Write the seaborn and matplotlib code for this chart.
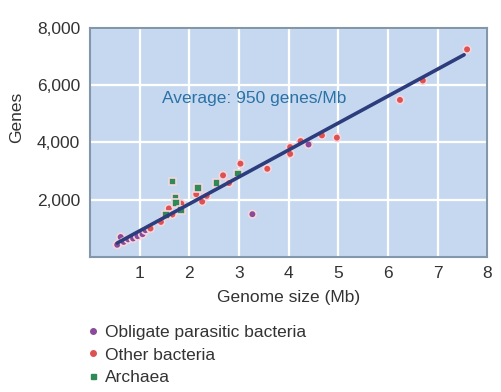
import matplotlib
matplotlib.use("Agg")
import matplotlib.pyplot as plt
import seaborn as sns
import pandas as pd
from matplotlib.lines import Line2D

# Data (genome size in Mb, number of genes)
parasitic_x = [0.55, 0.62, 0.68, 0.77, 0.87, 0.96, 1.06, 1.12, 3.27, 4.40]
parasitic_y = [420, 690, 520, 610, 640, 720, 790, 930, 1490, 3930]

other_x = [1.22, 1.43, 1.59, 1.66, 1.84, 2.14, 2.26, 2.35, 2.68, 2.80, 3.03, 3.57,
           4.03, 4.03, 4.24, 4.67, 4.97, 6.24, 6.70, 7.59]
other_y = [990, 1220, 1690, 1480, 1860, 2190, 1930, 2130, 2850, 2580, 3260, 3080,
           3840, 3600, 4050, 4250, 4170, 5490, 6170, 7260]

archaea_x = [1.53, 1.66, 1.72, 1.73, 1.84, 2.18, 2.55, 2.98]
archaea_y = [1460, 2640, 2070, 1890, 1640, 2400, 2580, 2910]

groups = ["Obligate parasitic bacteria", "Other bacteria", "Archaea"]

fit_x = [0.55, 7.53]
fit_y = [480, 7070]

annotation = "Average: 950 genes/Mb"
x_ticks = [1, 2, 3, 4, 5, 6, 7, 8]
y_ticks = [2000, 4000, 6000, 8000]
y_tick_labels = ["2,000", "4,000", "6,000", "8,000"]

df = pd.DataFrame({
    "x": parasitic_x + other_x + archaea_x,
    "y": parasitic_y + other_y + archaea_y,
    "group": [groups[0]] * len(parasitic_x) + [groups[1]] * len(other_x) + [groups[2]] * len(archaea_x),
})

sns.set_theme(style="white")
plt.rcParams["font.family"] = ["Liberation Sans", "DejaVu Sans"]

colors = {groups[0]: "#8a4a9a", groups[1]: "#dc5252", groups[2]: "#2f8a58"}
markers = {groups[0]: "o", groups[1]: "o", groups[2]: "s"}

fig = plt.figure(figsize=(5.02, 3.92), dpi=100)
ax = fig.add_axes([0.179, 0.345, 0.792, 0.583])
ax.set_facecolor("#c6d8f0")

ax.set_xlim(0, 8)
ax.set_ylim(0, 8000)
ax.set_xticks(x_ticks)
ax.set_yticks(y_ticks)
ax.set_yticklabels(y_tick_labels)
ax.grid(True, color="white", linewidth=1.6)
ax.set_axisbelow(True)

sns.scatterplot(data=df, x="x", y="y", hue="group", style="group",
                palette=colors, markers=markers, s=30,
                edgecolor="#f6d6dc", linewidth=1.2, legend=False, ax=ax, zorder=3)

sns.lineplot(x=fit_x, y=fit_y, color="#2d3c7c", linewidth=2.6, ax=ax, zorder=4)

ax.text(1.45, 5540, annotation, color="#2a72a6", fontsize=12.5, va="center", ha="left", zorder=5)

for s in ax.spines.values():
    s.set_color("#8496aa")
    s.set_linewidth(1.5)

ax.tick_params(axis="both", labelsize=12.5, colors="#333333", length=0, pad=7)
ax.set_xlabel("Genome size (Mb)", fontsize=12.5, color="#333333", labelpad=6)
ax.set_ylabel("")
fig.text(0.034, 0.70, "Genes", rotation=90, fontsize=12.5, color="#333333", va="center", ha="center")

# legend below the axes
handles = [
    Line2D([], [], marker="o", linestyle="", color=colors[groups[0]], markersize=4),
    Line2D([], [], marker="o", linestyle="", color=colors[groups[1]], markersize=4),
    Line2D([], [], marker="s", linestyle="", color=colors[groups[2]], markersize=3.6),
]
fig.legend(handles, groups, loc="upper left", bbox_to_anchor=(0.176, 0.171),
           frameon=False, fontsize=12.5, handlelength=0.5, handletextpad=0.45,
           labelspacing=0.42, borderaxespad=0, borderpad=0, labelcolor="#333333")

fig.savefig("out.png", dpi=100)
